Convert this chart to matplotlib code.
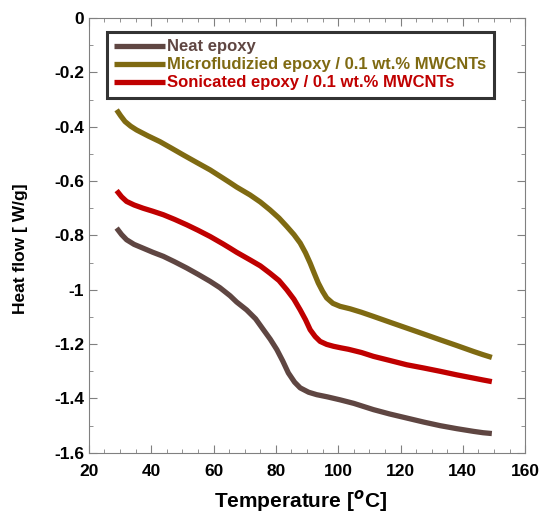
import numpy as np
import matplotlib.pyplot as plt
from matplotlib.ticker import MultipleLocator, FormatStrFormatter

plt.rcParams['font.family'] = 'Liberation Sans'
plt.rcParams['font.weight'] = 'bold'
plt.rcParams['axes.unicode_minus'] = False
plt.rcParams['mathtext.fontset'] = 'custom'
plt.rcParams['mathtext.rm'] = 'Liberation Sans:bold'
plt.rcParams['mathtext.bf'] = 'Liberation Sans:bold'

# values
t_neat = [28.9, 30.5, 32.1, 34.5, 37.4, 40.5, 43.9, 47.5, 51.4, 55, 58.9, 62, 65.3, 67.4, 70.6, 73.5, 76,
          78.2, 80.3, 82.2, 84, 86, 87.8, 90.5, 93.1, 96.5, 100.6, 105, 111.3, 116.5, 122, 127.5, 132.7,
          138, 143.4, 146.5, 149.3]
hf_neat = [-0.773, -0.797, -0.816, -0.833, -0.847, -0.862, -0.877, -0.897, -0.92, -0.943, -0.969, -0.992,
           -1.022, -1.045, -1.074, -1.107, -1.147, -1.182, -1.22, -1.262, -1.306, -1.34, -1.361, -1.377,
           -1.386, -1.394, -1.405, -1.418, -1.441, -1.457, -1.472, -1.487, -1.50, -1.511, -1.521, -1.526,
           -1.529]

t_micro = [28.9, 30.2, 31.6, 33.4, 35.3, 39, 42.8, 46.5, 50.3, 54.5, 58.9, 63, 65.3, 67.4, 71.7, 75, 78.1,
           81, 83.5, 85.8, 87.8, 89.5, 91, 92.3, 93.6, 95, 96.3, 98.3, 100.6, 103.8, 107.5, 111.3, 116.5,
           122, 127.5, 132.7, 138, 143.4, 146.5, 149.3]
hf_micro = [-0.338, -0.36, -0.381, -0.398, -0.412, -0.434, -0.455, -0.479, -0.504, -0.531, -0.559, -0.589,
            -0.606, -0.622, -0.651, -0.677, -0.706, -0.736, -0.767, -0.797, -0.828, -0.864, -0.902, -0.939,
            -0.975, -1.006, -1.03, -1.05, -1.061, -1.07, -1.083, -1.098, -1.119, -1.141, -1.163, -1.184,
            -1.205, -1.227, -1.239, -1.249]

t_son = [28.9, 30.5, 32.1, 34.5, 37.4, 40.5, 43.9, 47.5, 51.4, 55, 58.9, 63, 65.3, 67.4, 71.7, 75, 78.1,
         81, 83.5, 85.8, 87.8, 89.5, 91, 92.6, 94.2, 96.3, 98.5, 101, 103.3, 107.5, 111.3, 116.5, 122,
         127.5, 132.7, 138, 143.4, 146.5, 149.3]
hf_son = [-0.635, -0.658, -0.675, -0.688, -0.70, -0.711, -0.724, -0.741, -0.761, -0.781, -0.804, -0.831,
          -0.847, -0.862, -0.89, -0.912, -0.939, -0.966, -1.0, -1.035, -1.074, -1.11, -1.147, -1.172,
          -1.19, -1.201, -1.208, -1.214, -1.219, -1.231, -1.245, -1.26, -1.276, -1.288, -1.30, -1.313,
          -1.325, -1.332, -1.338]

labels = ['Neat epoxy', 'Microfludizied epoxy / 0.1 wt.% MWCNTs', 'Sonicated epoxy / 0.1 wt.% MWCNTs']
colors = ['#5F4642', '#7F6A12', '#C00000']

fig = plt.figure(figsize=(5.42, 5.14), dpi=100)
ax = fig.add_axes([0.164, 0.119, 0.805, 0.846])

for t, hf, c, lab in zip([t_neat, t_micro, t_son], [hf_neat, hf_micro, hf_son], colors, labels):
    ax.plot(t, hf, color=c, lw=3.8, label=lab, solid_capstyle='butt', solid_joinstyle='round')

ax.set_xlim(20, 160)
ax.set_ylim(-1.6, 0)
ax.xaxis.set_major_locator(MultipleLocator(20))
ax.xaxis.set_minor_locator(MultipleLocator(5))
ax.yaxis.set_major_locator(MultipleLocator(0.2))
ax.yaxis.set_minor_locator(MultipleLocator(0.1))
ax.yaxis.set_major_formatter(FormatStrFormatter('%g'))
ax.tick_params(which='both', direction='in', top=True, right=True, color='#808080', labelsize=12.5)
ax.tick_params(which='major', length=6)
ax.tick_params(which='minor', length=3)
ax.tick_params(axis='x', pad=8)
for s in ax.spines.values():
    s.set_color('#808080')

ax.set_xlabel('Temperature [$^{o}$C]', fontsize=15, fontweight='bold')
ax.set_ylabel('Heat flow [ W/g]', fontsize=12.5, fontweight='bold')
ax.xaxis.set_label_coords(0.484, -0.082)
ax.yaxis.set_label_coords(-0.14, 0.47)

leg = ax.legend(loc='upper left', bbox_to_anchor=(0.041, 0.968), fontsize=12, frameon=True, fancybox=False,
                handlelength=3.05, handletextpad=0.12, borderpad=0.45, labelspacing=0.18, borderaxespad=0)
leg.get_frame().set_edgecolor('black')
leg.get_frame().set_linewidth(2.2)
for txt, c in zip(leg.get_texts(), colors):
    txt.set_color(c)

fig.savefig('out.png', dpi=100)
